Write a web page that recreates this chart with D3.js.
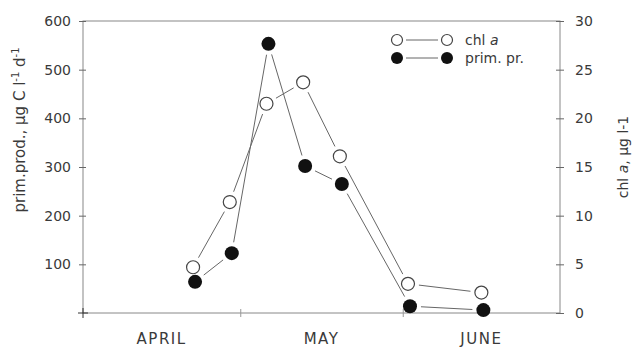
<!DOCTYPE html>
<html>
<head>
<meta charset="utf-8">
<script src="https://cdn.jsdelivr.net/npm/d3@7"></script>
<style>
  body { margin: 0; background: #fff; }
  text { font-family: "DejaVu Sans", sans-serif; fill: #3a3a3a; }
</style>
</head>
<body>
<div id="chart"></div>
<script>
// sampling dates (both series measured on the same days)
var dates = ["1985-04-22", "1985-04-29", "1985-05-06", "1985-05-13", "1985-05-20", "1985-06-02", "1985-06-16"];
// chlorophyll a, ug l-1 (right axis)
var chlA = [4.7, 11.4, 21.5, 23.7, 16.1, 3.0, 2.1];
// primary production, ug C l-1 d-1 (left axis)
var primPr = [64, 123, 553, 302, 265, 14, 6];
var leftTicks = [100, 200, 300, 400, 500, 600];
var rightTicks = [0, 5, 10, 15, 20, 25, 30];
var months = ["APRIL", "MAY", "JUNE"];
var monthStarts = ["1985-04-01", "1985-05-01", "1985-06-01", "1985-07-01"];

var W = 632, H = 348;
var margin = {top: 21, right: 72, bottom: 35, left: 83};
var width = W - margin.left - margin.right,
    height = H - margin.top - margin.bottom;

var parse = d3.timeParse("%Y-%m-%d");
var lineColor = "#666";

var svg = d3.select("#chart").append("svg")
  .attr("width", W)
  .attr("height", H)
  .append("g")
  .attr("transform", "translate(" + margin.left + "," + margin.top + ")");

var x = d3.scaleTime()
  .domain([parse(monthStarts[0]), parse(monthStarts[3])])
  .range([0, width]);

var yL = d3.scaleLinear().domain([0, 600]).range([height, 0]);
var yR = d3.scaleLinear().domain([0, 30]).range([height, 0]);

// frame
svg.append("rect")
  .attr("width", width)
  .attr("height", height)
  .attr("fill", "none")
  .attr("stroke", "#888")
  .attr("stroke-width", 1);

// left axis - ticks cross the line
var gL = svg.append("g")
  .call(d3.axisLeft(yL).tickValues(leftTicks).tickSize(4).tickPadding(8));
gL.select(".domain").remove();
gL.selectAll(".tick line").attr("x2", -4).attr("x1", 3).attr("stroke", lineColor);
gL.selectAll(".tick text").style("font-size", "14px").attr("fill", "#4a4a4a");

// corner cross at origin
svg.append("line").attr("x1", -5).attr("x2", 5).attr("y1", height).attr("y2", height).attr("stroke", "#333");
svg.append("line").attr("x1", 0).attr("x2", 0).attr("y1", height - 5).attr("y2", height + 5).attr("stroke", "#333");

// right axis
var gR = svg.append("g")
  .attr("transform", "translate(" + width + ",0)")
  .call(d3.axisRight(yR).tickValues(rightTicks).tickSize(4).tickPadding(11));
gR.select(".domain").remove();
gR.selectAll(".tick line").attr("x1", -4).attr("x2", 4).attr("stroke", lineColor);
gR.selectAll(".tick text").style("font-size", "14px").attr("fill", "#4a4a4a");

// bottom axis: month boundaries
var gB = svg.append("g")
  .attr("transform", "translate(0," + height + ")")
  .call(d3.axisBottom(x).tickValues(monthStarts.slice(1, 3).map(parse)).tickSize(4).tickFormat(""));
gB.select(".domain").remove();
gB.selectAll(".tick line").attr("y1", -4).attr("y2", 4).attr("stroke", "#999");

svg.append("g")
  .selectAll("text")
  .data(months)
  .enter()
  .append("text")
  .attr("x", function(d, i) {
    return (x(parse(monthStarts[i])) + x(parse(monthStarts[i + 1]))) / 2;
  })
  .attr("y", height + 31)
  .attr("text-anchor", "middle")
  .style("font-size", "15px")
  .style("letter-spacing", "1.5px")
  .attr("fill", "#4a4a4a")
  .text(function(d) { return d; });

// axis titles
var tl = svg.append("text")
  .attr("transform", "translate(" + (-58) + "," + 109 + ") rotate(-90)")
  .attr("text-anchor", "middle")
  .style("font-size", "15px");
tl.append("tspan").text("prim.prod., µg C l");
tl.append("tspan").attr("dy", -6).style("font-size", "10px").text("-1");
tl.append("tspan").attr("dy", 6).text(" d");
tl.append("tspan").attr("dy", -6).style("font-size", "10px").text("-1");

var tr = svg.append("text")
  .attr("transform", "translate(" + (width + 68) + "," + 136 + ") rotate(-90)")
  .attr("text-anchor", "middle")
  .style("font-size", "14px");
tr.append("tspan").text("chl ");
tr.append("tspan").style("font-style", "italic").text("a");
tr.append("tspan").text(", µg l-1");

// points
var chlPts = dates.map(function(d, i) { return [x(parse(d)), yR(chlA[i])]; });
var ppPts = dates.map(function(d, i) { return [x(parse(d)) + 2, yL(primPr[i])]; });

// connecting segments with small gaps at the circles
function gapSegments(pts, gap) {
  var segs = [];
  for (var i = 0; i < pts.length - 1; i++) {
    var a = pts[i], b = pts[i + 1];
    var dx = b[0] - a[0], dy = b[1] - a[1];
    var len = Math.sqrt(dx * dx + dy * dy);
    var ux = dx / len, uy = dy / len;
    segs.push([a[0] + ux * gap, a[1] + uy * gap, b[0] - ux * gap, b[1] - uy * gap]);
  }
  return segs;
}

[chlPts, ppPts].forEach(function(pts) {
  svg.append("g")
    .selectAll("line")
    .data(gapSegments(pts, 11))
    .enter()
    .append("line")
    .attr("x1", function(d) { return d[0]; })
    .attr("y1", function(d) { return d[1]; })
    .attr("x2", function(d) { return d[2]; })
    .attr("y2", function(d) { return d[3]; })
    .attr("stroke", "#666")
    .attr("stroke-width", 1);
});

svg.append("g")
  .selectAll("circle")
  .data(chlPts)
  .enter()
  .append("circle")
  .attr("cx", function(d) { return d[0]; })
  .attr("cy", function(d) { return d[1]; })
  .attr("r", 6.5)
  .attr("fill", "#fff")
  .attr("stroke", "#444")
  .attr("stroke-width", 1.2);

svg.append("g")
  .selectAll("circle")
  .data(ppPts)
  .enter()
  .append("circle")
  .attr("cx", function(d) { return d[0]; })
  .attr("cy", function(d) { return d[1]; })
  .attr("r", 7)
  .attr("fill", "#111");

// legend
var lg = svg.append("g").attr("transform", "translate(" + (397 - margin.left) + "," + (40 - margin.top) + ")");
lg.append("line").attr("x1", 9).attr("x2", 41).attr("y1", 0).attr("y2", 0).attr("stroke", "#666");
lg.append("circle").attr("cx", 0).attr("cy", 0).attr("r", 5.5).attr("fill", "#fff").attr("stroke", "#444").attr("stroke-width", 1.2);
lg.append("circle").attr("cx", 50).attr("cy", 0).attr("r", 5.5).attr("fill", "#fff").attr("stroke", "#444").attr("stroke-width", 1.2);
var t1 = lg.append("text").attr("x", 68).attr("y", 5).style("font-size", "14px");
t1.append("tspan").text("chl ");
t1.append("tspan").style("font-style", "italic").text("a");

lg.append("line").attr("x1", 9).attr("x2", 41).attr("y1", 18).attr("y2", 18).attr("stroke", "#666");
lg.append("circle").attr("cx", 0).attr("cy", 18).attr("r", 6).attr("fill", "#111");
lg.append("circle").attr("cx", 50).attr("cy", 18).attr("r", 6).attr("fill", "#111");
lg.append("text").attr("x", 68).attr("y", 23).style("font-size", "14px").text("prim. pr.");
</script>
</body>
</html>
